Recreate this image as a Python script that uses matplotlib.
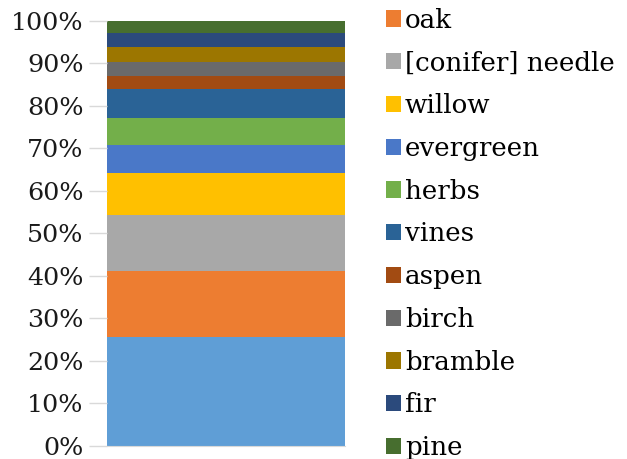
import matplotlib
matplotlib.use("Agg")
import matplotlib.pyplot as plt
from matplotlib.ticker import PercentFormatter

series_names = ["", "oak", "[conifer] needle", "willow", "evergreen", "herbs",
                "vines", "aspen", "birch", "bramble", "fir", "pine"]
series_values = [25.6, 15.5, 13.1, 9.9, 6.7, 6.4, 6.7, 3.0, 3.3, 3.5, 3.3, 3.0]
series_colors = ["#5F9ED6", "#ED7D31", "#A8A8A8", "#FFC000", "#4A78C8", "#73AF4A",
                 "#2A6396", "#A24B12", "#6A6A6A", "#9C7600", "#2B4A7C", "#476E2F"]
y_ticks = [0, 10, 20, 30, 40, 50, 60, 70, 80, 90, 100]

plt.rcParams['font.family'] = ['DejaVu Serif']
fs_tick = 18.3
fs_leg = 18.8

fig = plt.figure(figsize=(6.27, 4.59), dpi=100)
ax = fig.add_axes([107/627, 13/459, (345-107)/627, (446-20.7)/459])

bottom = 0
handles = []
labels = []
for name, val, col in zip(series_names, series_values, series_colors):
    b = ax.bar(0, val, width=1.0, bottom=bottom, color=col, linewidth=0)
    bottom += val
    if name:
        handles.append(b)
        labels.append(name)

ax.set_xlim(-0.5, 0.5)
ax.set_ylim(0, 100)
ax.set_yticks(y_ticks)
ax.yaxis.set_major_formatter(PercentFormatter(decimals=0))
ax.set_xticks([])
for s in ["top", "right", "left"]:
    ax.spines[s].set_visible(False)
ax.spines["bottom"].set_color("#d9d9d9")
ax.tick_params(axis='y', length=13, width=1, color="#d9d9d9", pad=4,
               labelsize=fs_tick, labelcolor="#1a1a1a")

fig.legend(handles, labels, loc='upper left', bbox_to_anchor=(386/627, 1 - 7.6/459),
           frameon=False, fontsize=fs_leg, handlelength=0.58, handleheight=0.58,
           handletextpad=0.15, labelspacing=0.68, borderpad=0, borderaxespad=0)

fig.savefig("out.png", dpi=100)
